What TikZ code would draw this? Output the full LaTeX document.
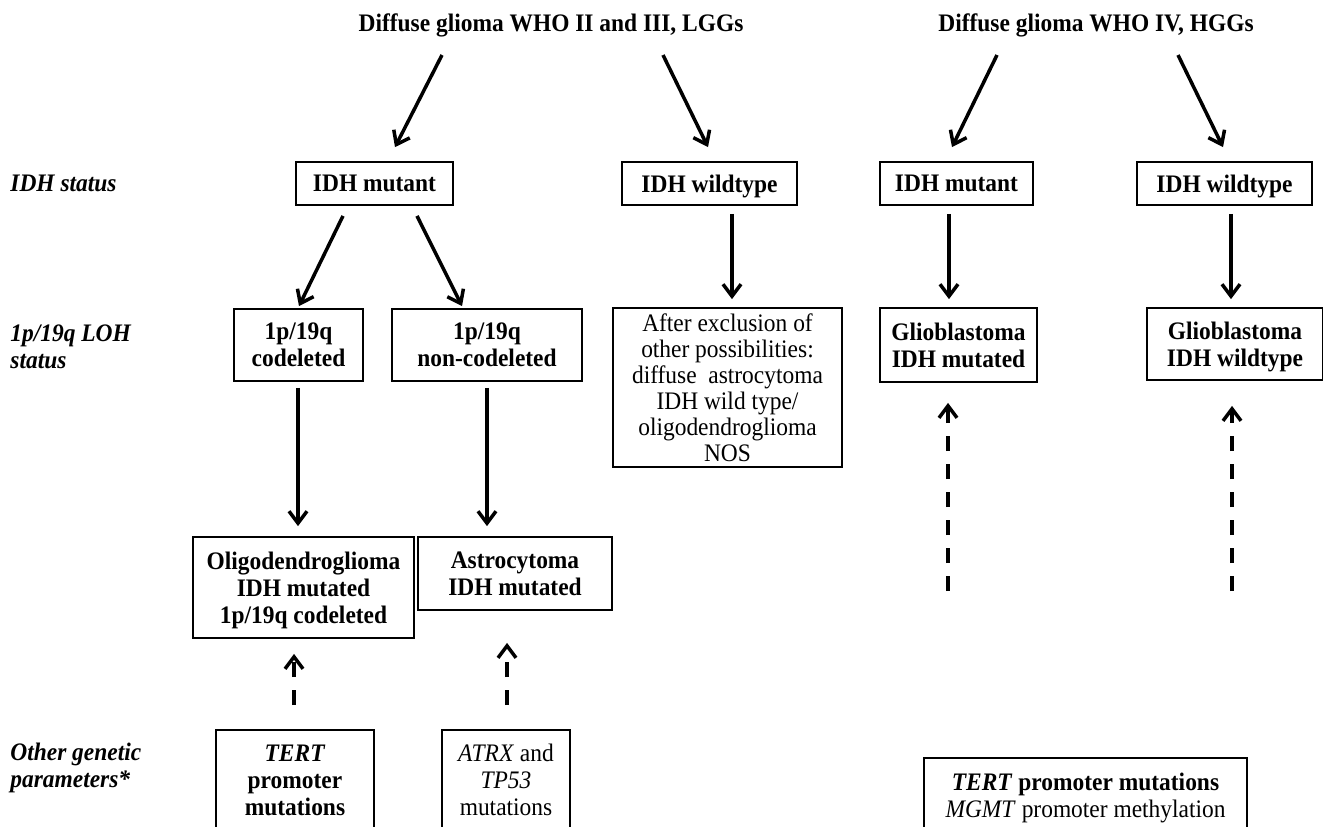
\documentclass[tikz,border=0pt]{standalone}
\usepackage{fontspec}
\setmainfont[FakeStretch=0.93]{Liberation Serif}
\usetikzlibrary{arrows.meta,calc,positioning}

\begin{document}
\begin{tikzpicture}[
    x=0.5pt, y=-0.5pt,
    box/.style={rectangle, draw, line width=0.9pt, align=center, inner sep=0pt, text depth=0pt, font=\fontsize{12.6pt}{13.5pt}\selectfont\bfseries},
    plainbox/.style={box, font=\fontsize{12.6pt}{13.5pt}\selectfont},
    head/.style={inner sep=0pt, font=\fontsize{12.6pt}{13.5pt}\selectfont\bfseries},
    rowlabel/.style={anchor=west, align=left, inner sep=0pt, font=\fontsize{12.6pt}{13.5pt}\selectfont\bfseries\itshape},
    flow/.style={-{Straight Barb[length=6pt, width=9pt]}, line width=1.75pt},
    hint/.style={flow, dash pattern=on 7.5pt off 6.5pt}
]
\useasboundingbox (0,0) rectangle (1323,826);
\clip (0,0) rectangle (1323,826);

% Tumour groups
\node[head] (lgg) at (551,25) {Diffuse glioma WHO II and III, LGGs};
\node[head] (hgg) at (1096,25) {Diffuse glioma WHO IV, HGGs};

% Row labels
\node[rowlabel] (lblidh) at (10,183.5) {IDH status};
\node[rowlabel] (lblloh) at (10,346.5) {1p/19q LOH\\status};
\node[rowlabel] (lblother) at (10,767.5) {Other genetic\\parameters*};

% IDH status
\node[box, minimum width=78.5pt, minimum height=21.5pt] (mutL) at (374.5,183.5) {IDH mutant};
\node[box, minimum width=87.5pt, minimum height=21.5pt] (wtL) at (709.5,183.5) {IDH wildtype};
\node[box, minimum width=76.5pt, minimum height=21.5pt] (mutH) at (956.5,183.5) {IDH mutant};
\node[box, minimum width=87.5pt, minimum height=21.5pt] (wtH) at (1224.5,183.5) {IDH wildtype};

% 1p/19q status and HGG diagnoses
\node[box, minimum width=64.5pt, minimum height=36pt] (codel) at (298.5,345) {1p/19q\\codeleted};
\node[box, minimum width=95pt, minimum height=36pt] (noncodel) at (487,345) {1p/19q\\non-codeleted};
\node[plainbox, minimum width=114.5pt, minimum height=79.5pt, font=\fontsize{12.6pt}{13pt}\selectfont] (excl) at (727.5,387.5) {After exclusion of\\other possibilities:\\diffuse\ \ astrocytoma\\IDH wild type/\\oligodendroglioma\\NOS};
\node[box, minimum width=78.5pt, minimum height=37pt] (gbM) at (958.5,345) {Glioblastoma\\IDH mutated};
\node[box, minimum width=88pt, minimum height=36pt] (gbW) at (1235,344) {Glioblastoma\\IDH wildtype};

% LGG diagnoses
\node[box, minimum width=110.5pt, minimum height=50.5pt] (oligo) at (303.5,587.5) {Oligodendroglioma\\IDH mutated\\1p/19q codeleted};
\node[box, minimum width=97pt, minimum height=36.5pt] (astro) at (515,573.5) {Astrocytoma\\IDH mutated};

% Other genetic parameters
\node[box, minimum width=79pt, minimum height=50pt] (tertL) at (295,780) {\textit{TERT}\\promoter\\mutations};
\node[plainbox, minimum width=64pt, minimum height=50pt] (atrx) at (506,780) {\textit{ATRX} and\\\textit{TP53}\\mutations};
\node[plainbox, minimum width=161.5pt, minimum height=37.5pt] (tertH) at (1085.5,795.5) {\textbf{\textit{TERT} promoter mutations}\\\textit{MGMT} promoter methylation};

% Solid arrows
\draw[flow] ($(lgg)+(-109,30)$) -- ($(mutL.north)+(20.5,-14)$);
\draw[flow] ($(lgg)+(112,30)$) -- ($(wtL.north)+(-1.5,-14)$);
\draw[flow] ($(hgg)+(-99,30)$) -- ($(mutH.north)+(-4.5,-14)$);
\draw[flow] ($(hgg)+(82,30)$) -- ($(wtH.north)+(-1.5,-14)$);
\draw[flow] ($(mutL.south)+(-31.5,10)$) -- ($(codel.north)+(0.5,-2)$);
\draw[flow] ($(mutL.south)+(42.5,10)$) -- ($(noncodel.north)+(-25,-2)$);
\draw[flow] ($(wtL.south)+(22.5,8)$) -- ($(excl.north)+(4.5,-8)$);
\draw[flow] ($(mutH.south)+(-7.5,8)$) -- ($(gbM.north)+(-9.5,-8)$);
\draw[flow] ($(wtH.south)+(6.5,8)$) -- ($(gbW.north)+(-4,-8)$);
\draw[flow] ($(codel.south)+(-0.5,6)$) -- ($(oligo.north)+(-5.5,-10)$);
\draw[flow] ($(noncodel.south)+(0,6)$) -- ($(astro.north)+(-28,-10)$);

% Dashed arrows
\draw[hint] ($(tertL.north)+(-1,-24)$) -- ($(oligo.south)+(-9.5,15)$);
\draw[hint] ($(atrx.north)+(1,-24)$) -- ($(astro.south)+(-8,32)$);
\draw[hint] ($(tertH.north)+(-137.5,-166)$) -- ($(gbM.south)+(-10.5,20)$);
\draw[hint] ($(tertH.north)+(146.5,-166)$) -- ($(gbW.south)+(-3,25)$);

\end{tikzpicture}
\end{document}
